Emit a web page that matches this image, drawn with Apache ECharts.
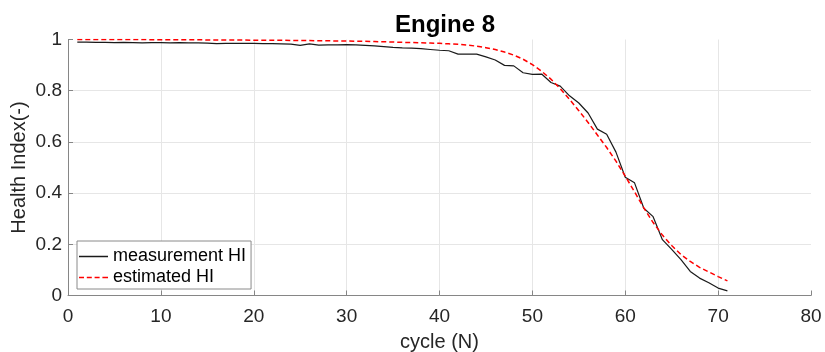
<!DOCTYPE html>
<html>
<head>
<meta charset="utf-8">
<script src="https://cdn.jsdelivr.net/npm/echarts@6/dist/echarts.min.js"></script>
<style>
  html, body { margin: 0; padding: 0; background: #fff; }
  #chart { width: 825px; height: 352px; }
</style>
</head>
<body>
<div id="chart"></div>
<script>
// cycle numbers (N)
const cycles = [
  1, 2, 3, 4, 5, 6, 7, 8, 9, 10,
  11, 12, 13, 14, 15, 16, 17, 18, 19, 20,
  21, 22, 23, 24, 25, 26, 27, 28, 29, 30,
  31, 32, 33, 34, 35, 36, 37, 38, 39, 40,
  41, 42, 43, 44, 45, 46, 47, 48, 49, 50,
  51, 52, 53, 54, 55, 56, 57, 58, 59, 60,
  61, 62, 63, 64, 65, 66, 67, 68, 69, 70,
  71
]

// measured health index
const measuredHI = [
  0.990, 0.990, 0.989, 0.989, 0.988, 0.989, 0.988, 0.987, 0.988, 0.988,
  0.987, 0.988, 0.987, 0.987, 0.986, 0.984, 0.985, 0.985, 0.985, 0.985,
  0.984, 0.984, 0.983, 0.982, 0.977, 0.983, 0.978, 0.979, 0.979, 0.980,
  0.979, 0.977, 0.975, 0.972, 0.969, 0.967, 0.966, 0.964, 0.961, 0.958,
  0.956, 0.943, 0.943, 0.943, 0.932, 0.920, 0.899, 0.897, 0.870, 0.864,
  0.865, 0.832, 0.818, 0.780, 0.752, 0.713, 0.650, 0.630, 0.560, 0.462,
  0.440, 0.341, 0.308, 0.218, 0.180, 0.140, 0.094, 0.068, 0.050, 0.029,
  0.018
]

// estimated health index (fitted)
const estimatedHI = [
  1.000, 1.000, 1.000, 1.000, 1.000, 1.000, 1.000, 1.000, 0.999, 0.999,
  0.999, 0.999, 0.999, 0.999, 0.998, 0.998, 0.998, 0.998, 0.998, 0.997,
  0.997, 0.997, 0.997, 0.996, 0.996, 0.996, 0.995, 0.995, 0.994, 0.994,
  0.993, 0.993, 0.992, 0.991, 0.990, 0.989, 0.988, 0.987, 0.986, 0.985,
  0.983, 0.981, 0.978, 0.974, 0.968, 0.961, 0.951, 0.939, 0.923, 0.902,
  0.876, 0.845, 0.808, 0.766, 0.722, 0.676, 0.627, 0.578, 0.525, 0.466,
  0.405, 0.342, 0.285, 0.236, 0.195, 0.160, 0.133, 0.110, 0.092, 0.074,
  0.057
]

const xTicks = [0, 10, 20, 30, 40, 50, 60, 70, 80]
const yTicks = [0, 0.2, 0.4, 0.6, 0.8, 1]

const font = 'Liberation Sans, Arial, Helvetica, sans-serif'
const textColor = '#262626'
const axisColor = '#868686'
const gridColor = '#e6e6e6'
const measColor = '#1a1a1a'
const estColor = '#ff0000'

// legend keys drawn as filled paths (solid bar, and four short dashes)
const solidKey = 'path://M0,0h29v1.5h-29z'
const dashedKey = 'path://M0,0h5v1.5h-5z M7.8,0h5v1.5h-5z M15.6,0h5v1.5h-5z M23.4,0h5.6v1.5h-5.6z'

const chart = echarts.init(document.getElementById('chart'), null, { renderer: 'canvas' })

chart.setOption({
  animation: false,
  backgroundColor: '#fff',
  textStyle: { fontFamily: font },
  title: {
    text: 'Engine 8',
    left: 440,
    textAlign: 'center',
    top: 8,
    textStyle: { fontSize: 24, fontWeight: 'bold', color: '#000', fontFamily: font },
  },
  // keep the plot box fixed; v6 would otherwise shrink it to fit the labels
  grid: { left: 68, right: 14, top: 39.5, bottom: 56.5, outerBoundsMode: 'none' },
  legend: {
    orient: 'vertical',
    left: 77,
    top: 241,
    itemWidth: 29,
    itemHeight: 1.5,
    itemGap: 0,
    padding: [5, 5, 1, 2],
    borderColor: '#8a8a8a',
    borderWidth: 1,
    backgroundColor: '#fff',
    textStyle: { fontSize: 18, lineHeight: 21, color: '#000', fontFamily: font },
    data: [
      { name: 'measurement HI', icon: solidKey, itemStyle: { color: measColor } },
      { name: 'estimated HI', icon: dashedKey, itemStyle: { color: estColor } },
    ],
  },
  xAxis: {
    type: 'value',
    min: xTicks[0],
    max: xTicks[xTicks.length - 1],
    interval: 10,
    name: 'cycle (N)',
    nameLocation: 'middle',
    nameGap: 37,
    nameMoveOverlap: false,
    nameTextStyle: { fontSize: 20, color: textColor, fontFamily: font },
    axisLine: { show: true, lineStyle: { color: axisColor, width: 1 } },
    axisTick: { show: true, inside: true, length: 5, lineStyle: { color: axisColor } },
    axisLabel: { fontSize: 19, color: textColor, margin: 12, fontFamily: font },
    splitLine: { show: true, showMinLine: false, showMaxLine: false, lineStyle: { color: gridColor, width: 1 } },
  },
  yAxis: {
    type: 'value',
    min: yTicks[0],
    max: yTicks[yTicks.length - 1],
    interval: 0.2,
    name: 'Health Index(-)',
    nameLocation: 'middle',
    nameGap: 39,
    nameMoveOverlap: false,
    nameTextStyle: { fontSize: 20, color: textColor, fontFamily: font },
    axisLine: { show: true, lineStyle: { color: axisColor, width: 1 } },
    axisTick: { show: true, inside: true, length: 5, lineStyle: { color: axisColor } },
    axisLabel: {
      fontSize: 19,
      color: textColor,
      margin: 6,
      fontFamily: font,
      formatter: (v) => String(Math.round(v * 10) / 10),
    },
    splitLine: { show: true, showMinLine: false, showMaxLine: false, lineStyle: { color: gridColor, width: 1 } },
  },
  series: [
    {
      name: 'measurement HI',
      type: 'line',
      symbol: 'none',
      data: cycles.map((c, i) => [c, measuredHI[i]]),
      lineStyle: { color: measColor, width: 1.2 },
      itemStyle: { color: measColor },
      z: 3,
    },
    {
      name: 'estimated HI',
      type: 'line',
      symbol: 'none',
      data: cycles.map((c, i) => [c, estimatedHI[i]]),
      lineStyle: { color: estColor, width: 1.5, type: [5, 3] },
      itemStyle: { color: estColor },
      z: 4,
    },
  ],
})
</script>
</body>
</html>
